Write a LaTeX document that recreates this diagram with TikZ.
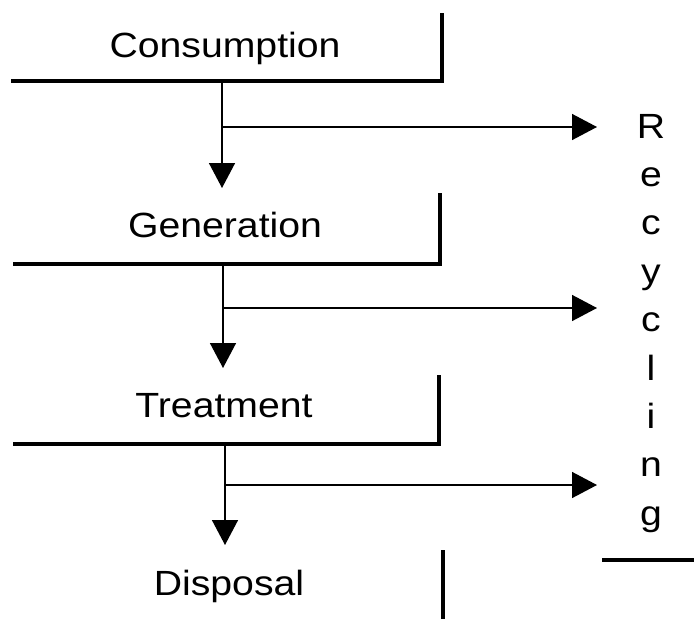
\documentclass[tikz,border=0pt]{standalone}
\usepackage{fontspec}
\setmainfont{Liberation Sans}[FakeStretch=1.12]
\usetikzlibrary{arrows.meta}
\begin{document}
\begin{tikzpicture}[x=1pt,y=-1pt,
  stage/.style={font=\fontsize{35}{40}\selectfont, anchor=base, inner sep=0pt},
  bar/.style={line width=3.5pt, line join=miter},
  flow/.style={line width=1.5pt, -{Triangle[length=25pt,width=26pt]}},
]
\useasboundingbox (0,0) rectangle (694,619);

% stage labels
\node[stage] (cons)  at (225,57)  {Consumption};
\node[stage] (gen)   at (225,237) {Generation};
\node[stage] (treat) at (224,417) {Treatment};
\node[stage] (disp)  at (229,595) {Disposal};

% vertical "Recycling" column
\foreach \ch [count=\i from 0] in {R,e,c,y,c,l,i,n,g}
  \node[stage] (rec\i) at (651,{138+48.4*\i}) {\ch};

% corner bars under each stage
\draw[bar] (11,81)  -- (442,81)  -- (442,13);
\draw[bar] (13,264) -- (440,264) -- (440,193);
\draw[bar] (13,444) -- (439,444) -- (439,375);
\draw[bar] (443,550) -- (443,619);
\draw[bar] (602,560) -- (694,560);

% downward flow and branches to recycling
\coordinate (s1) at (222,81);  \coordinate (d1) at (222,188);
\coordinate (b1) at (222,127); \coordinate (r1) at (597,127);
\coordinate (s2) at (223,264); \coordinate (d2) at (223,368);
\coordinate (b2) at (223,308); \coordinate (r2) at (597,308);
\coordinate (s3) at (225,444); \coordinate (d3) at (225,545);
\coordinate (b3) at (225,485); \coordinate (r3) at (597,485);

\foreach \k in {1,2,3} {
  \draw[flow] (s\k) -- (d\k);
  \draw[flow] (b\k) -- (r\k);
}
\end{tikzpicture}
\end{document}
